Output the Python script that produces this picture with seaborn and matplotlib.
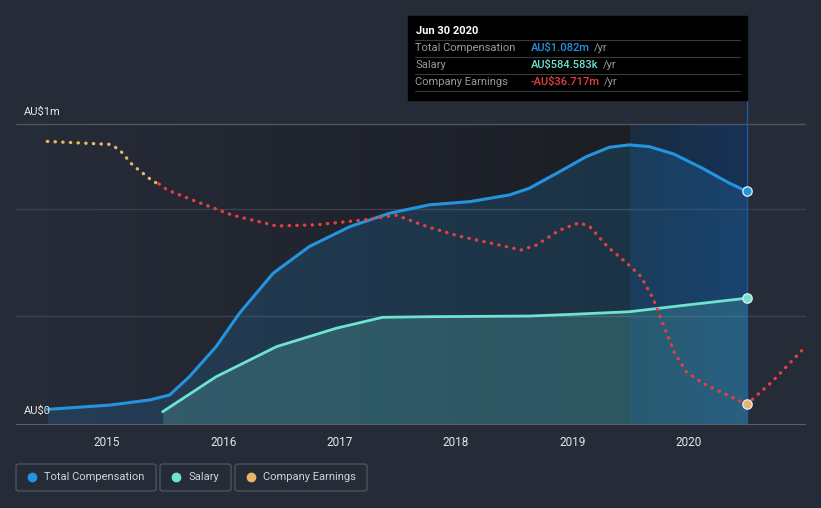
import numpy as np
import pandas as pd
import matplotlib
matplotlib.use("Agg")
import matplotlib.pyplot as plt
from matplotlib.patches import FancyBboxPatch, Rectangle
from matplotlib.colors import LinearSegmentedColormap
import seaborn as sns

# Values (AU$ m, years as decimals)
comp_years = [2014.49, 2015.03, 2015.37, 2015.54, 2015.71, 2015.94, 2016.14, 2016.43,
              2016.74, 2017.09, 2017.43, 2017.77, 2018.12, 2018.46, 2018.63, 2018.89,
              2019.12, 2019.32, 2019.49, 2019.66, 2019.87, 2020.12, 2020.35, 2020.50]
comp_vals = [0.068, 0.088, 0.112, 0.135, 0.220, 0.360, 0.515, 0.701,
             0.825, 0.918, 0.980, 1.019, 1.034, 1.065, 1.096, 1.173,
             1.243, 1.287, 1.298, 1.290, 1.256, 1.189, 1.120, 1.082]

salary_years = [2015.48, 2015.94, 2016.46, 2016.97, 2017.37, 2017.77, 2018.63,
                2019.00, 2019.49, 2019.98, 2020.50]
salary_vals = [0.057, 0.220, 0.360, 0.445, 0.496, 0.499, 0.502,
               0.510, 0.522, 0.553, 0.585]

earn_years = [2014.49, 2015.03, 2015.11, 2015.22, 2015.40, 2015.45, 2015.52, 2015.74,
              2016.08, 2016.46, 2016.80, 2017.20, 2017.49, 2017.75, 2018.03, 2018.31,
              2018.56, 2018.69, 2018.89, 2019.06, 2019.15, 2019.30, 2019.47, 2019.59,
              2019.70, 2019.79, 2019.88, 2019.98, 2020.12, 2020.28, 2020.50, 2020.72,
              2020.97]
earn_vals = [7.1, 6.6, 5.7, 3.2, 0.4, 0.0, -1.0, -2.7,
             -5.2, -7.0, -6.8, -6.0, -5.2, -7.1, -8.7, -9.9,
             -11.0, -10.2, -7.7, -6.45, -7.1, -10.4, -13.2, -15.4,
             -19.3, -23.8, -28.2, -31.3, -33.2, -34.7, -36.717, -32.9,
             -27.8]

year_ticks = [2015, 2016, 2017, 2018, 2019, 2020]
legend_names = ["Total Compensation", "Salary", "Company Earnings"]
tip_rows = [("Total Compensation", "AU$1.082m"),
            ("Salary", "AU$584.583k"),
            ("Company Earnings", "-AU$36.717m")]

BG = "#262b38"
BLUE = "#2394df"
TEAL = "#6fe3cf"
ORANGE = "#e8b465"
RED = "#e5403f"
GRID = "#3b404c"

sns.set_style("dark")
plt.rcParams["font.family"] = ["Roboto", "DejaVu Sans"]

comp = pd.DataFrame({"year": comp_years, "value": comp_vals})
salary = pd.DataFrame({"year": salary_years, "value": salary_vals})
earn = pd.DataFrame({"year": earn_years, "value": earn_vals})
earn_pos = earn[earn["year"] <= 2015.45]
earn_neg = earn[earn["year"] >= 2015.45]

fig = plt.figure(figsize=(8.21, 5.08), dpi=100, facecolor=BG)
ax = fig.add_axes([16 / 821, 84 / 508, 789 / 821, 300 / 508])
ax.set_facecolor(BG)
ax.set_xlim(2014.22, 2021.0)
ax.set_ylim(0, 1.395)

# darkening background toward the hovered period
cmap = LinearSegmentedColormap.from_list("bg", [BG, "#1b1e24"])
grad = np.linspace(0, 1, 256).reshape(1, -1)
ax.imshow(grad, extent=[2014.49, 2019.5, 0, 1.395], aspect="auto", cmap=cmap,
          zorder=0, interpolation="bicubic")
hl = LinearSegmentedColormap.from_list("hl", ["#1a2330", "#172a4a"])
ax.imshow(grad, extent=[2019.5, 2020.5, 0, 1.395], aspect="auto", cmap=hl,
          zorder=0, interpolation="bicubic")

for y, c in [(0.5, GRID), (1.0, GRID), (1.395, "#50555f")]:
    ax.axhline(y, color=c, lw=1, zorder=1, clip_on=False)

ax.fill_between(comp["year"], comp["value"], color=BLUE, alpha=0.18, lw=0, zorder=2)
ax.fill_between(salary["year"], salary["value"], color=TEAL, alpha=0.2, lw=0, zorder=2)
ax.axvspan(2019.5, 2020.5, color="#1f6fb8", alpha=0.12, lw=0, zorder=2)

sns.lineplot(data=comp, x="year", y="value", color=BLUE, lw=2.2, ax=ax, zorder=4)
sns.lineplot(data=salary, x="year", y="value", color=TEAL, lw=2.0, ax=ax, zorder=4)
ax.scatter([comp_years[-1]], [comp_vals[-1]], s=45, color=BLUE, edgecolor="#dfe6ee",
           lw=1, zorder=6)
ax.scatter([salary_years[-1]], [salary_vals[-1]], s=45, color=TEAL, edgecolor="#dfe6ee",
           lw=1, zorder=6)

ax.plot([2020.5, 2020.5], [0, 1.53], color="#1f5a9a", lw=1, zorder=3, clip_on=False)

ax2 = ax.twinx()
ax2.set_ylim(-40, 10)
ax2.patch.set_visible(False)
sns.lineplot(data=earn_pos, x="year", y="value", color=ORANGE, lw=2.4, ax=ax2,
             linestyle=(0, (0.1, 2.2)), dash_capstyle="round", zorder=5)
sns.lineplot(data=earn_neg, x="year", y="value", color=RED, lw=2.4, ax=ax2,
             linestyle=(0, (0.1, 2.2)), dash_capstyle="round", zorder=5)
ax2.scatter([2020.5], [-36.717], s=45, color=ORANGE, edgecolor="#dfe6ee", lw=1, zorder=6)
ax2.set_yticks([])
ax2.set_ylabel("")

for a in (ax, ax2):
    for s in a.spines.values():
        s.set_visible(False)
ax.spines["bottom"].set_visible(True)
ax.spines["bottom"].set_color("#5a5f6b")
ax.set_xticks(year_ticks)
ax.set_xticklabels([str(y) for y in year_ticks])
ax.tick_params(axis="x", colors="#5a5f6b", length=4, width=1, pad=5,
               labelcolor="#e6e6e6", labelsize=8.5)
ax.set_yticks([])
ax.set_xlabel("")
ax.set_ylabel("")
ax.grid(False)
ax2.grid(False)

fig.text(24 / 821, 1 - 112 / 508, "AU$1m", color="#e6e6e6", fontsize=8, va="center")
fig.text(24 / 821, 1 - 411 / 508, "AU$0", color="#e6e6e6", fontsize=8, va="center")

# tooltip
fig.patches.append(Rectangle((408 / 821, 1 - 100 / 508), 339 / 821, 84 / 508,
                             transform=fig.transFigure, color="black", zorder=10))
fig.text(416 / 821, 1 - 31 / 508, "Jun 30 2020", color="white", fontsize=8,
         fontweight="bold", va="center", zorder=11)
for yy in [40, 57, 74, 91]:
    fig.lines.append(plt.Line2D([415 / 821, 740 / 821], [1 - yy / 508] * 2,
                                transform=fig.transFigure, color="#3a3a3a", lw=0.8,
                                zorder=11))
val_colors = [BLUE, TEAL, RED]
for (lab, val), yy, c in zip(tip_rows, [48, 65, 82], val_colors):
    fig.text(415 / 821, 1 - yy / 508, lab, color="#9a9a9a", fontsize=8, va="center",
             zorder=11)
    t = fig.text(531 / 821, 1 - yy / 508, val, color=c, fontsize=8, va="center",
                 fontweight="medium", zorder=11)
    fig.canvas.draw()
    bb = t.get_window_extent()
    fig.text(bb.x1 / 821 + 4 / 821, 1 - yy / 508, "/yr", color="#9a9a9a", fontsize=8,
             va="center", zorder=11)

# legend boxes
boxes = [(16, 156), (160, 231), (235, 367)]
dots = [BLUE, TEAL, ORANGE]
for (x0, x1), name, c in zip(boxes, legend_names, dots):
    fig.patches.append(FancyBboxPatch((x0 / 821, 17 / 508), (x1 - x0) / 821, 27 / 508,
                                      boxstyle="round,pad=0,rounding_size=0.004",
                                      transform=fig.transFigure, facecolor="none",
                                      edgecolor="#4c515c", lw=1))
    fig.lines.append(plt.Line2D([(x0 + 16) / 821], [1 - 477 / 508], marker="o",
                                markersize=6, color=c, transform=fig.transFigure, lw=0))
    fig.text((x0 + 28) / 821, 1 - 477 / 508, name, color="#cfd2d8", fontsize=8,
             va="center")

fig.savefig("out.png", dpi=100, facecolor=BG)
